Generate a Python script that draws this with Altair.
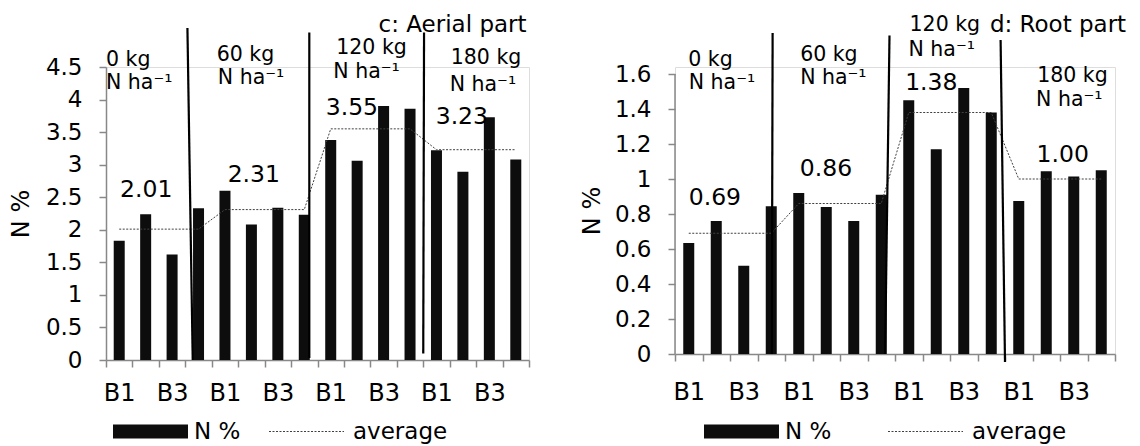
import altair as alt
import pandas as pd

FONT = "DejaVu Sans"

# ---------------- data ----------------
groups = ["0 kg", "60 kg", "120 kg", "180 kg"]
blocks = ["B1", "B2", "B3", "B4"]
unit_text = "N ha\u207b\u00b9"

aerial_n = [1.83, 2.24, 1.62, 2.33, 2.60, 2.08, 2.34, 2.23,
            3.38, 3.06, 3.90, 3.86, 3.22, 2.89, 3.73, 3.08]
aerial_avg = [2.01, 2.31, 3.55, 3.23]

root_n = [0.635, 0.76, 0.505, 0.845, 0.92, 0.84, 0.76, 0.91,
          1.45, 1.17, 1.52, 1.38, 0.875, 1.045, 1.015, 1.05]
root_avg = [0.69, 0.86, 1.38, 1.00]

aerial_ticks = [0, 0.5, 1, 1.5, 2, 2.5, 3, 3.5, 4, 4.5]
root_ticks = [0, 0.2, 0.4, 0.6, 0.8, 1.0, 1.2, 1.4, 1.6]

# ---------------- annotation layout (axis units) ----------------
left_cfg = dict(
    W=423, H=293, ytop=4.5, ticks=aerial_ticks, title="c: Aerial part",
    seps=[(3.08, 5.10, 3.28, 0.0), (7.69, 5.03, 7.69, 0.03), (12.03, 5.03, 12.0, 0.10)],
    grp=[(0.0, 4.61), (4.19, 4.69), (8.71, 4.79), (13.04, 4.64)],
    unit=[(0.0, 4.25), (4.23, 4.33), (8.6, 4.42), (13.0, 4.22)],
    avglab=[(1.52, 2.61), (5.59, 2.84), (9.3, 3.87), (13.46, 3.73)],
    title_xy=(10.31, 5.15),
    legend_fill=(33, 353), legend_stroke=(189, 353),
    xlabpad=14, ytitlepad=12, axis_rule=False,
)
right_cfg = dict(
    W=440, H=287, ytop=1.64, ticks=root_ticks, title="d: Root part",
    seps=[(3.55, 1.834, 3.52, 0.0), (7.8, 1.82, 7.64, 0.0), (11.84, 1.794, 12.0, -0.046)],
    grp=[(0.48, 1.68), (4.55, 1.71), (8.53, 1.88), (13.17, 1.59)],
    unit=[(0.5, 1.55), (4.55, 1.58), (8.49, 1.74), (13.13, 1.45)],
    avglab=[(1.45, 0.89), (5.49, 1.06), (9.32, 1.55), (14.1, 1.14)],
    title_xy=(11.45, 1.88),
    legend_fill=(55, 353), legend_stroke=(239, 353),
    xlabpad=19, ytitlepad=10, axis_rule=True,
)

GRAY = "#888888"
keys = [f"{g}|{b}" for g in groups for b in blocks]


def panel(values, avgs, cfg):
    df = pd.DataFrame({
        "key": keys,
        "v": values,
        "avg": [avgs[i // 4] for i in range(16)],
        "s1": ["N %"] * 16,
        "s2": ["average"] * 16,
    })
    yscale = alt.Scale(domain=[0, cfg["ytop"]], nice=False, zero=True)
    lbl = "split(datum.value, '|')[1]"
    xaxis = alt.Axis(
        title=None, tickBand="extent", labelAngle=0, labelOverlap=False,
        labelExpr=f"({lbl} == 'B1' || {lbl} == 'B3') ? {lbl} : ''",
        labelFont=FONT, labelFontSize=24, labelColor="black",
        labelPadding=cfg["xlabpad"], tickSize=7, tickColor=GRAY, tickWidth=1.5,
        domainColor=GRAY, domainWidth=1.5, grid=False,
    )
    yaxis = alt.Axis(
        values=cfg["ticks"], format="~g", title="N %", grid=False, labelOverlap=False,
        titleFont=FONT, titleFontSize=24, titleFontWeight="normal", titleColor="black",
        titlePadding=cfg["ytitlepad"],
        labelFont=FONT, labelFontSize=23, labelColor="black", labelPadding=17,
        tickSize=7, tickColor=GRAY, tickWidth=1.5,
        domain=not cfg["axis_rule"], domainColor=GRAY, domainWidth=1.5,
    )

    def Y(field):
        return alt.Y(field, scale=yscale, axis=yaxis)

    xband = alt.X("key:N", sort=keys, scale=alt.Scale(paddingInner=0, paddingOuter=0), axis=xaxis)
    fx, fy = cfg["legend_fill"]
    sx, sy = cfg["legend_stroke"]
    bars = alt.Chart(df).mark_bar(size=11).encode(
        x=xband,
        y=Y("v:Q"),
        fill=alt.Fill("s1:N", scale=alt.Scale(domain=["N %"], range=["#0d0d0d"]),
                      legend=alt.Legend(orient="none", legendX=fx, legendY=fy, title=None,
                                        symbolType="M-5.357,-1H5.357V1H-5.357Z", symbolSize=196,
                                        symbolStrokeWidth=0, labelOffset=32, padding=0,
                                        labelFont=FONT, labelFontSize=23, labelColor="black")),
    )
    line = alt.Chart(df).mark_line(strokeWidth=1, strokeDash=[2, 1.5]).encode(
        x=xband,
        y=Y("avg:Q"),
        stroke=alt.Stroke("s2:N", scale=alt.Scale(domain=["average"], range=["#404040"]),
                          legend=alt.Legend(orient="none", legendX=sx, legendY=sy, title=None,
                                            symbolType="M-5.357,0H5.357", symbolSize=196,
                                            symbolStrokeWidth=1, symbolDash=[2, 1.5],
                                            labelOffset=35, padding=0,
                                            labelFont=FONT, labelFontSize=23, labelColor="black")),
    )
    base = alt.layer(bars, line)

    xq = alt.Scale(domain=[0, 16], nice=False, zero=False)
    sep_df = pd.DataFrame(cfg["seps"], columns=["x1", "y1", "x2", "y2"])
    seps = alt.Chart(sep_df).mark_rule(color="black", strokeWidth=2.2).encode(
        x=alt.X("x1:Q", scale=xq, axis=None), x2="x2:Q",
        y=Y("y1:Q"), y2="y2:Q",
    )
    grp_df = pd.DataFrame({
        "x": [p[0] for p in cfg["grp"]] + [p[0] for p in cfg["unit"]],
        "y": [p[1] for p in cfg["grp"]] + [p[1] for p in cfg["unit"]],
        "t": groups + [unit_text] * 4,
    })
    grp = alt.Chart(grp_df).mark_text(font=FONT, fontSize=20.5, align="left", baseline="middle", color="black").encode(
        x=alt.X("x:Q", scale=xq, axis=None), y=Y("y:Q"), text="t:N")
    lab_df = pd.DataFrame({
        "x": [p[0] for p in cfg["avglab"]],
        "y": [p[1] for p in cfg["avglab"]],
        "t": [f"{a:.2f}" for a in avgs],
    })
    labs = alt.Chart(lab_df).mark_text(font=FONT, fontSize=23.5, align="center", baseline="middle", color="black").encode(
        x=alt.X("x:Q", scale=xq, axis=None), y=Y("y:Q"), text="t:N")
    ttl_df = pd.DataFrame({"x": [cfg["title_xy"][0]], "y": [cfg["title_xy"][1]], "t": [cfg["title"]]})
    ttl = alt.Chart(ttl_df).mark_text(font=FONT, fontSize=23, align="left", baseline="middle", color="black").encode(
        x=alt.X("x:Q", scale=xq, axis=None), y=Y("y:Q"), text="t:N")
    layers = [base, seps, grp, labs, ttl]
    if cfg["axis_rule"]:
        ax = alt.Chart(pd.DataFrame({"a": [0]})).mark_rule(color=GRAY, strokeWidth=1.5).encode(
            x=alt.value(0), y=alt.datum(0, scale=yscale, axis=yaxis), y2=alt.datum(cfg["ticks"][-1]))
        layers.append(ax)
    return alt.layer(*layers).resolve_scale(x="independent").properties(width=cfg["W"], height=cfg["H"])


left = panel(aerial_n, aerial_avg, left_cfg)
right = panel(root_n, root_avg, right_cfg)

chart = alt.hconcat(left, right, spacing=48).resolve_scale(
    x="independent", y="independent", fill="independent", stroke="independent"
).resolve_legend(fill="independent", stroke="independent").properties(
    padding={"left": 0, "top": 5, "right": 0, "bottom": 0}
).configure_view(stroke="transparent", strokeWidth=0).configure(background="white")

chart.save("out.html", embed_options={"renderer": "svg", "actions": False})
